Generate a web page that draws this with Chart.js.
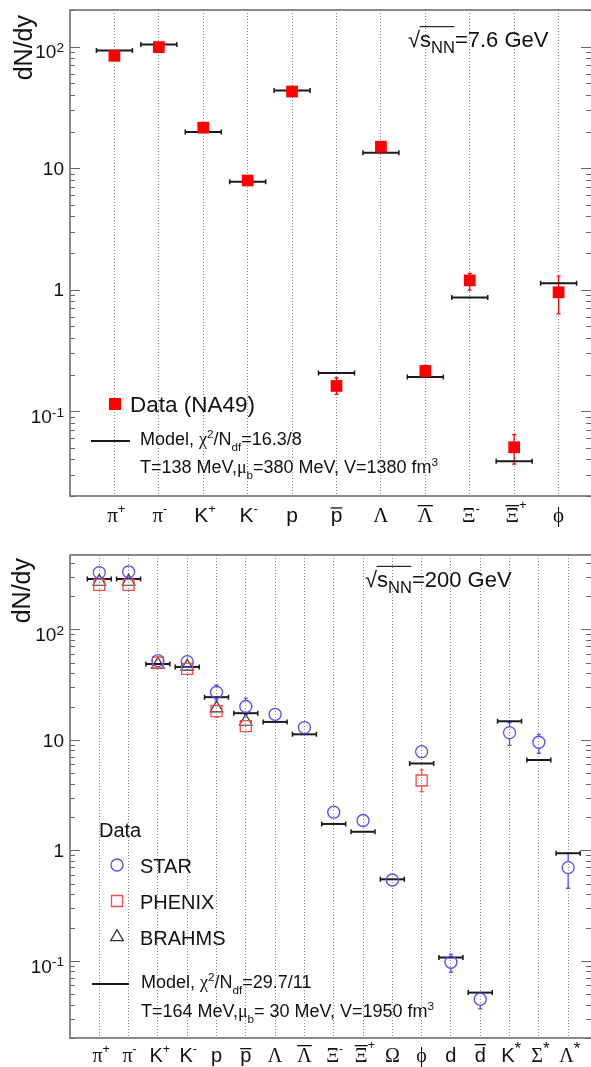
<!DOCTYPE html>
<html>
<head>
<meta charset="utf-8">
<script src="https://cdn.jsdelivr.net/npm/chart.js@4.4.0/dist/chart.umd.min.js"></script>
<style>
body { margin: 0; background: #fff; }
canvas { display: block; }
</style>
</head>
<body>
<canvas id="top" width="591" height="530"></canvas>
<canvas id="bottom" width="591" height="537"></canvas>
<script>
// sqrt(s_NN) = 7.6 GeV, NA49
var topTicks = ['\u03C0\u207A', '\u03C0\u207B', 'K\u207A', 'K\u207B', 'p', 'p\u0304', '\u039B', '\u039B\u0304', '\u039E\u207B', '\u039E\u0304\u207A', '\u03D5'];
var na49 = [84, 99, 21.5, 7.9, 42.7, 0.161, 15.0, 0.214, 1.19, 0.0504, 0.95];
var na49Low = [81, 95, 20.6, 7.6, 41, 0.137, 14.4, 0.19, 0.99, 0.0366, 0.63];
var na49High = [87, 103, 22.4, 8.2, 44.4, 0.188, 15.6, 0.238, 1.36, 0.064, 1.29];
var topModel = [93, 104, 19.8, 7.7, 43.6, 0.206, 13.4, 0.191, 0.86, 0.0387, 1.13];

// sqrt(s_NN) = 200 GeV, RHIC
var botTicks = ['\u03C0\u207A', '\u03C0\u207B', 'K\u207A', 'K\u207B', 'p', 'p\u0304', '\u039B', '\u039B\u0304', '\u039E\u207B', '\u039E\u0304\u207A', '\u03A9', '\u03D5', 'd', 'd\u0304', 'K*', '\u03A3*', '\u039B*'];
var star = [326, 331, 52, 51, 26.9, 20, 17.0, 12.9, 2.21, 1.86, 0.538, 7.8, 0.097, 0.0449, 11.6, 9.5, 0.697];
var starLow = [300, 305, 48, 47, 23, 17, 15.8, 12, 2.0, 1.7, 0.5, 7.0, 0.0787, 0.0367, 8.9, 7.55, 0.453];
var starHigh = [352, 357, 56, 55, 31.3, 23.8, 18.2, 13.8, 2.42, 2.02, 0.576, 8.6, 0.115, 0.0497, 14.3, 11.2, 0.94];
var phenix = [252, 252, 50, 43.8, 18.2, 13.3, null, null, null, null, null, 4.28, null, null, null, null, null];
var phenixLow = [236, 236, 47, 41, 16, 12, null, null, null, null, null, 3.40, null, null, null, null, null];
var phenixHigh = [268, 268, 53, 46.6, 20.5, 14.8, null, null, null, null, null, 5.33, null, null, null, null, null];
var brahms = [270, 270, 48, 46, 19.3, 14.6, null, null, null, null, null, null, null, null, null, null, null];
var botModel = [285, 285, 48.5, 45.6, 24.3, 17.4, 14.5, 11.2, 1.73, 1.47, 0.546, 6.1, 0.107, 0.0515, 14.7, 6.56, 0.94];

var yLabelValues = [0.1, 1, 10, 100];

var SANS = '"Liberation Sans", Arial, Helvetica, sans-serif';
var SERIF = '"Liberation Serif", "Times New Roman", serif';
var INK = '#111';
var BLUE = '#4f4fff';
var PINK = '#ff4a4a';

function pts(arr) {
  return arr.map(function (v, i) { return { x: i, y: v }; }).filter(function (p) { return p.y !== null; });
}

function setFont(ctx, size, fam) { ctx.font = size + 'px ' + fam; }

function tickParts(s) {
  var parts = [];
  for (var ch of s) {
    if (ch === '\u0304') { parts[parts.length - 1].bar = true; continue; }
    if (ch === '\u207A') parts.push({ t: '+', sup: true });
    else if (ch === '\u207B') parts.push({ t: '-', sup: true });
    else if (ch === '*') parts.push({ t: '*', sup: true, star: true });
    else parts.push({ t: ch, greek: ch >= '\u0370' && ch <= '\u03FF' });
  }
  return parts;
}

function drawTickLabel(ctx, s, cx, y, size) {
  var parts = tickParts(s);
  var baseW = 0, supW = 0;
  parts.forEach(function (p) {
    p.size = p.star ? size * 0.85 : (p.sup ? size * 0.62 : size);
    setFont(ctx, p.size, p.greek ? SERIF : SANS);
    var m = ctx.measureText(p.t);
    p.w = m.width;
    p.asc = m.actualBoundingBoxAscent;
    if (p.sup) supW += p.w; else baseW += p.w;
  });
  var x = cx - baseW / 2 - supW * 0.25;
  var prevBar = false;
  parts.forEach(function (p) {
    setFont(ctx, p.size, p.greek ? SERIF : SANS);
    var dy = p.sup ? -size * (p.star ? 0.4 : 0.45) - (prevBar ? 4 : 0) : 0;
    ctx.fillText(p.t, x, y + dy);
    if (p.bar) {
      var by = y - Math.max(p.asc + 3, size * 0.7);
      ctx.fillRect(x, by, p.w, 1.3);
    }
    prevBar = !!p.bar;
    x += p.w;
  });
}

function drawPowLabel(ctx, v, xr, y, size) {
  var e = Math.round(Math.log10(v));
  var base = e === 0 ? '1' : '10';
  var sup = (e === 0 || e === 1) ? '' : String(e);
  var ss = size * 0.72;
  setFont(ctx, ss, SANS);
  var sw = sup ? ctx.measureText(sup).width : 0;
  setFont(ctx, size, SANS);
  var bw = ctx.measureText(base).width;
  var x = xr - sw - bw;
  var b = y + size * 0.36 + (sup ? 5 : 0);
  ctx.fillText(base, x, b);
  if (sup) {
    setFont(ctx, ss, SANS);
    ctx.fillText(sup, x + bw, b - size * 0.33);
  }
}

function rich(ctx, x, y, size, parts) {
  parts.forEach(function (p) {
    var k = p[1] || '', s = size, dy = 0, fam = SANS;
    if (k === 'u') { s = size * 0.65; dy = -size * 0.4; }
    if (k === 'd') { s = size * 0.65; dy = size * 0.36; }
    if (k === 'g') fam = SERIF;
    setFont(ctx, s, fam);
    ctx.fillText(p[0], x, y + dy);
    x += ctx.measureText(p[0]).width;
  });
  return x;
}

function drawEnergy(ctx, x, y, size, rest) {
  setFont(ctx, size, SANS);
  ctx.fillText('\u221A', x, y);
  var x0 = x + ctx.measureText('\u221A').width;
  ctx.fillText('s', x0, y);
  var x1 = x0 + ctx.measureText('s').width;
  setFont(ctx, size * 0.75, SANS);
  ctx.fillText('NN', x1, y + size * 0.28);
  var x2 = x1 + ctx.measureText('NN').width;
  ctx.fillRect(x0 - 0.5, y - size * 0.95, x2 - x0, 1.1);
  setFont(ctx, size, SANS);
  ctx.fillText(rest, x2, y);
}

function marker(ctx, style, x, y, color) {
  ctx.save();
  ctx.strokeStyle = color;
  ctx.lineWidth = 1.3;
  ctx.beginPath();
  if (style === 'circle') ctx.arc(x, y, 6, 0, 2 * Math.PI);
  else if (style === 'rect') ctx.rect(x - 5.5, y - 5.5, 11, 11);
  else { ctx.moveTo(x, y - 7.3); ctx.lineTo(x + 6.3, y + 3.65); ctx.lineTo(x - 6.3, y + 3.65); ctx.closePath(); }
  ctx.stroke();
  ctx.restore();
}

function modelEntry(ctx, x0, x1, ly, tx, b1, b2, chi, temp, mu, vol) {
  ctx.save();
  ctx.strokeStyle = '#1a1a1a';
  ctx.lineWidth = 2;
  ctx.beginPath(); ctx.moveTo(x0, ly); ctx.lineTo(x1, ly); ctx.stroke();
  ctx.restore();
  rich(ctx, tx, b1, 18, [['Model, '], ['\u03C7', 'g'], ['2', 'u'], ['/N'], ['df', 'd'], ['=' + chi]]);
  rich(ctx, tx, b2, 18, [['T=' + temp + ' MeV,'], ['\u03BC', 'g'], ['b', 'd'], ['=' + mu + ' MeV, V=' + vol + ' fm'], ['3', 'u']]);
}

function topLegend(ctx) {
  ctx.fillStyle = '#ff0000';
  ctx.fillRect(109, 398, 12, 12);
  ctx.fillStyle = INK;
  setFont(ctx, 22.5, SANS);
  ctx.fillText('Data (NA49)', 130, 412);
  modelEntry(ctx, 91, 130, 441, 140, 445, 473, '16.3/8', '138', '380', '1380');
}

function botLegend(ctx) {
  ctx.fillStyle = INK;
  setFont(ctx, 20, SANS);
  ctx.fillText('Data', 99, 307);
  marker(ctx, 'circle', 117, 335, BLUE);
  ctx.fillText('STAR', 140, 343);
  marker(ctx, 'rect', 117, 371, PINK);
  ctx.fillText('PHENIX', 140, 379);
  marker(ctx, 'triangle', 117, 407, '#333');
  ctx.fillText('BRAHMS', 140, 415);
  modelEntry(ctx, 92, 129, 454, 141, 458, 487, '29.7/11', '164', ' 30', '1950');
}

var errorBars = {
  id: 'errorBars',
  beforeDatasetsDraw: function (chart) {
    var ctx = chart.ctx, ys = chart.scales.y;
    chart.data.datasets.forEach(function (ds, di) {
      var meta = chart.getDatasetMeta(di);
      ctx.save();
      ctx.strokeStyle = ds.errColor || '#1a1a1a';
      ctx.lineWidth = 1.3;
      meta.data.forEach(function (pt, j) {
        var i = ds.data[j].x;
        ctx.beginPath();
        if (ds.errLow) {
          var yl = ys.getPixelForValue(ds.errLow[i]), yh = ys.getPixelForValue(ds.errHigh[i]);
          var r = ds.gap || 0;
          if (yh < pt.y - r) {
            ctx.moveTo(pt.x, yh); ctx.lineTo(pt.x, pt.y - r);
            ctx.moveTo(pt.x - 2, yh); ctx.lineTo(pt.x + 2, yh);
          }
          if (yl > pt.y + r) {
            ctx.moveTo(pt.x, pt.y + r); ctx.lineTo(pt.x, yl);
            ctx.moveTo(pt.x - 2, yl); ctx.lineTo(pt.x + 2, yl);
          }
        }
        if (ds.caps) {
          var w = ds.pointRadius;
          ctx.lineWidth = 1.5;
          ctx.moveTo(pt.x - w, pt.y - 2.5); ctx.lineTo(pt.x - w, pt.y + 2.5);
          ctx.moveTo(pt.x + w, pt.y - 2.5); ctx.lineTo(pt.x + w, pt.y + 2.5);
        }
        ctx.stroke();
      });
      ctx.restore();
    });
  }
};

function frame(o) {
  return {
    id: 'frame',
    afterDraw: function (chart) {
      var ctx = chart.ctx, a = chart.chartArea, xs = chart.scales.x, ys = chart.scales.y;
      ctx.save();
      ctx.strokeStyle = '#666';
      ctx.lineWidth = 1.5;
      ctx.beginPath();
      ctx.moveTo(a.right, a.top); ctx.lineTo(a.left, a.top);
      ctx.lineTo(a.left, a.bottom); ctx.lineTo(a.right, a.bottom);
      ctx.stroke();

      ctx.lineWidth = 1;
      ctx.beginPath();
      var lo = Math.floor(Math.log10(ys.min)), hi = Math.ceil(Math.log10(ys.max));
      for (var k = lo; k <= hi; k++) {
        for (var m = 1; m <= 9; m++) {
          var v = m * Math.pow(10, k);
          if (v < ys.min * 0.999 || v > ys.max * 1.001) continue;
          var y = Math.round(ys.getPixelForValue(v)) + 0.5;
          var len = m === 1 ? 10 : 5;
          ctx.moveTo(a.left, y); ctx.lineTo(a.left + len, y);
          ctx.moveTo(a.right, y); ctx.lineTo(a.right - len, y);
        }
      }
      ctx.stroke();

      ctx.fillStyle = INK;
      ctx.textAlign = 'left';
      ctx.textBaseline = 'alphabetic';
      yLabelValues.forEach(function (v) {
        drawPowLabel(ctx, v, 64, ys.getPixelForValue(v), 19);
      });
      o.ticks.forEach(function (s, i) {
        drawTickLabel(ctx, s, xs.getPixelForValue(i), o.labelY, o.labelSize);
      });

      ctx.save();
      ctx.translate(o.titleX, o.titleY);
      ctx.rotate(-Math.PI / 2);
      ctx.textAlign = 'right';
      setFont(ctx, 25, SANS);
      ctx.fillText('dN/dy', 0, 0);
      ctx.restore();

      drawEnergy(ctx, o.eX, o.eY, 22, o.energy);
      o.legend(ctx);
      ctx.restore();
    }
  };
}

function makeChart(id, o) {
  return new Chart(document.getElementById(id), {
    type: 'scatter',
    data: { datasets: o.datasets },
    options: {
      responsive: false,
      animation: false,
      devicePixelRatio: 1,
      events: [],
      layout: { autoPadding: false, padding: { top: o.padTop, right: 0, left: 0, bottom: 0 } },
      plugins: { legend: { display: false }, tooltip: { enabled: false } },
      scales: {
        x: {
          type: 'linear',
          min: -1,
          max: o.xMax,
          afterBuildTicks: function (s) { s.ticks = o.ticks.map(function (t, i) { return { value: i }; }); },
          afterFit: function (s) { s.height = o.xHeight; },
          ticks: { display: false },
          grid: { color: '#8a8a8a', lineWidth: 1, drawTicks: false },
          border: { display: false, dash: [1, 2] }
        },
        y: {
          type: 'logarithmic',
          min: o.yMin,
          max: o.yMax,
          afterFit: function (s) { s.width = 70; },
          ticks: { display: false },
          grid: { display: false },
          border: { display: false }
        }
      }
    },
    plugins: [errorBars, frame(o)]
  });
}

var topChart = makeChart('top', {
  padTop: 10, xMax: 10.73, xHeight: 34, yMin: 0.02, yMax: 200,
  ticks: topTicks, labelY: 522, labelSize: 21,
  titleX: 32, titleY: 15, energy: '=7.6 GeV', eX: 408, eY: 47,
  legend: topLegend,
  datasets: [
    {
      label: 'Data (NA49)', data: pts(na49),
      pointStyle: 'rect', pointRadius: 8.3,
      pointBackgroundColor: '#ff0000', pointBorderColor: '#ff0000', pointBorderWidth: 0,
      errLow: na49Low, errHigh: na49High, errColor: '#ff0000', gap: 0
    },
    {
      label: 'Model', data: pts(topModel),
      pointStyle: 'line', pointRadius: 18,
      pointBorderColor: '#1a1a1a', pointBorderWidth: 2, caps: true
    }
  ]
});

var botChart = makeChart('bottom', {
  padTop: 25, xMax: 16.78, xHeight: 29, yMin: 0.02, yMax: 470,
  ticks: botTicks, labelY: 532, labelSize: 20,
  titleX: 30, titleY: 28, energy: '=200 GeV', eX: 365, eY: 56.7,
  legend: botLegend,
  datasets: [
    {
      label: 'STAR', data: pts(star),
      pointStyle: 'circle', pointRadius: 6,
      pointBackgroundColor: 'rgba(0,0,0,0)', pointBorderColor: BLUE, pointBorderWidth: 1.3,
      errLow: starLow, errHigh: starHigh, errColor: BLUE, gap: 6
    },
    {
      label: 'PHENIX', data: pts(phenix),
      pointStyle: 'rect', pointRadius: 7.8,
      pointBackgroundColor: 'rgba(0,0,0,0)', pointBorderColor: PINK, pointBorderWidth: 1.3,
      errLow: phenixLow, errHigh: phenixHigh, errColor: PINK, gap: 5.5
    },
    {
      label: 'BRAHMS', data: pts(brahms),
      pointStyle: 'triangle', pointRadius: 7.3,
      pointBackgroundColor: 'rgba(0,0,0,0)', pointBorderColor: '#333', pointBorderWidth: 1.2
    },
    {
      label: 'Model', data: pts(botModel),
      pointStyle: 'line', pointRadius: 12,
      pointBorderColor: '#1a1a1a', pointBorderWidth: 2, caps: true
    }
  ]
});
</script>
</body>
</html>
